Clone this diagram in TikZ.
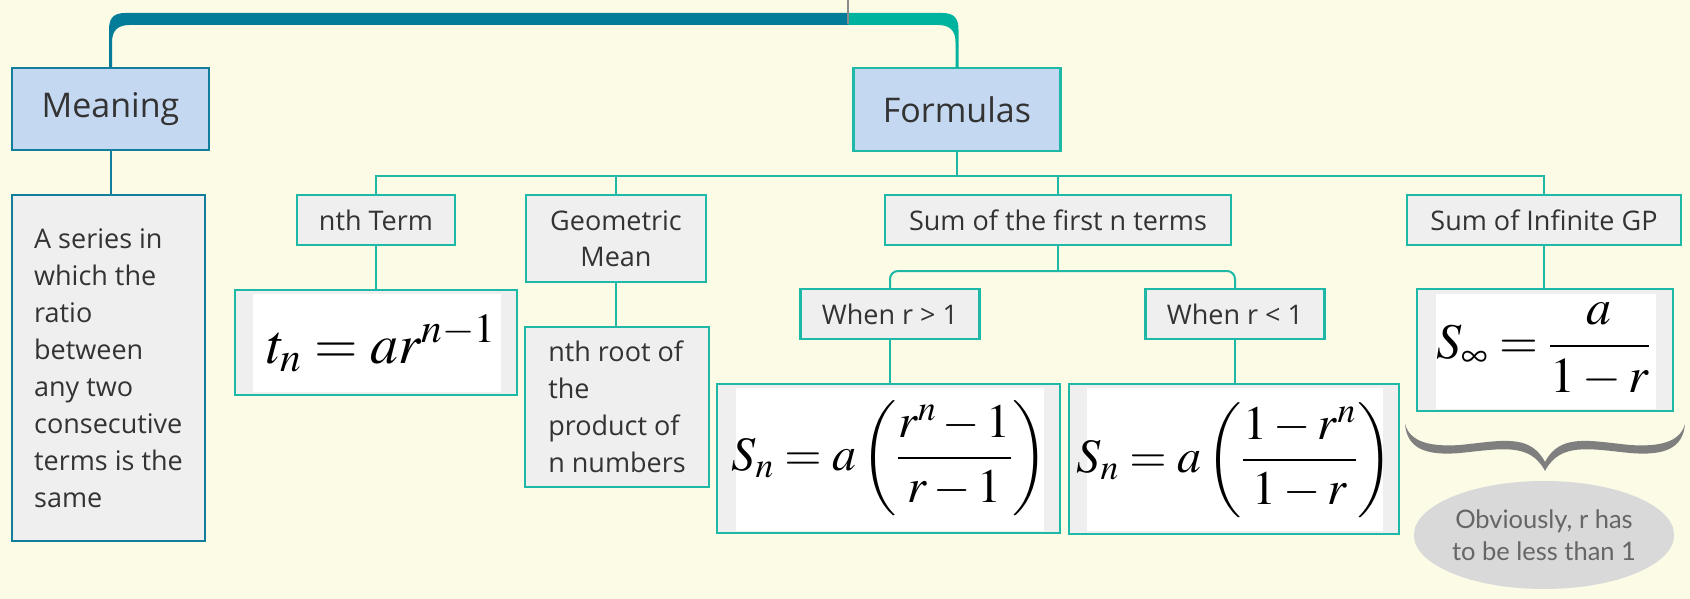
\documentclass[tikz,border=0pt]{standalone}
\usepackage{mathptmx}
\usepackage[no-math]{fontspec}
\setmainfont{Open Sans}
\newfontfamily\notefont{Lato}
\usetikzlibrary{calc,shapes.geometric}
\definecolor{bg}{HTML}{FCFBE6}
\definecolor{tdark}{HTML}{137E9B}
\definecolor{bardark}{HTML}{037C99}
\definecolor{tlight}{HTML}{1DB8A6}
\definecolor{barlight}{HTML}{00B39F}
\definecolor{bluefill}{HTML}{C5D8F1}
\definecolor{grayfill}{HTML}{EFEFEF}
\definecolor{txt}{HTML}{333333}
\definecolor{bracegray}{HTML}{7F7F7F}
\definecolor{ellfill}{HTML}{D9D9D9}
\definecolor{elltext}{HTML}{666666}
\definecolor{rootgray}{HTML}{8A8A8A}
\begin{document}
\begin{tikzpicture}[x=1pt,y=-1pt,
  every node/.style={inner sep=0pt, outer sep=0pt, text=txt},
  topbox/.style={draw=#1, line width=2.2pt, fill=bluefill, font=\fontsize{34}{40}\selectfont},
  lblbox/.style={draw=tlight, line width=2.2pt, fill=grayfill, font=\fontsize{27}{36}\selectfont, align=center},
  textbox/.style={draw=#1, line width=2.2pt, fill=grayfill, font=\fontsize{27}{37}\selectfont, align=left},
  fbox/.style={draw=tlight, line width=2.2pt, fill=grayfill},
  lconn/.style={draw=tlight, line width=2pt},
  dconn/.style={draw=tdark, line width=2pt},
  mathtxt/.style={text=black, font=\fontsize{#1}{#1}\selectfont}
]
\fill[bg] (0,0) rectangle (1690,599);
\useasboundingbox (0,0) rectangle (1690,599);
\coordinate (root) at (848,0);

% top level
\node[topbox=tdark, minimum width=197pt, minimum height=82pt] (meaning) at (110.5,109) {Meaning};
\node[topbox=tlight, minimum width=207pt, minimum height=83pt] (formulas) at (957,109.5) {Formulas};

% top bar
\fill[bardark] ($(meaning.north)+(-1.5,0)$) -- ($(meaning.north)+(-1.5,-38)$)
  .. controls ($(meaning.north)+(-1.5,-50)$) and ($(meaning.north)+(3,-55)$) .. ($(meaning.north)+(15,-55)$)
  -- ($(root)+(0,13)$) -- ($(root)+(0,25)$) -- ($(meaning.north)+(19,-43)$)
  .. controls ($(meaning.north)+(8,-43)$) and ($(meaning.north)+(1.5,-38)$) .. ($(meaning.north)+(1.5,-26)$)
  -- ($(meaning.north)+(1.5,0)$) -- cycle;
\fill[barlight] ($(root)+(0,13)$) -- ($(formulas.north)+(-15,-55)$)
  .. controls ($(formulas.north)+(-3,-55)$) and ($(formulas.north)+(1.5,-50)$) .. ($(formulas.north)+(1.5,-38)$)
  -- ($(formulas.north)+(1.5,0)$) -- ($(formulas.north)+(-1.5,0)$) -- ($(formulas.north)+(-1.5,-26)$)
  .. controls ($(formulas.north)+(-1.5,-38)$) and ($(formulas.north)+(-8,-43)$) .. ($(formulas.north)+(-19,-43)$)
  -- ($(root)+(0,25)$) -- cycle;
\draw[rootgray, line width=1.5pt] (root) -- ($(root)+(0,24)$);

% meaning branch
\node[textbox=tdark, minimum width=193pt, minimum height=346pt] (desc) at (108.5,368)
  {A series in\\which the\\ratio\\between\\any two\\consecutive\\terms is the\\same};
\draw[dconn] (meaning.south) -- (meaning.south |- desc.north);

% formulas children
\node[lblbox, minimum width=158pt, minimum height=50pt] (nth) at (376,220) {nth Term};
\node[lblbox, minimum width=180pt, minimum height=87pt] (gm) at (616,238.5) {Geometric\\Mean};
\node[lblbox, minimum width=346pt, minimum height=50pt] (sumn) at (1058,220) {Sum of the first n terms};
\node[lblbox, minimum width=274pt, minimum height=50pt] (suminf) at (1544,220) {Sum of Infinite GP};
\coordinate (bus) at (957,176);
\draw[lconn] (formulas.south) -- (bus);
\draw[lconn] (nth.north) |- (bus);
\draw[lconn] (gm.north) |- (bus);
\draw[lconn] (sumn.north) |- (bus);
\draw[lconn] (suminf.north) |- (bus);

% nth term formula
\node[fbox, minimum width=282pt, minimum height=105pt] (f1) at (376,342.5) {};
\fill[white] (253,293.5) rectangle (501,392);
\node[mathtxt=56, anchor=base] (m1) at (381,363) {$t_n = ar^{n-1}$};
\draw[lconn] (nth.south) -- (nth.south |- f1.north);

% geometric mean text
\node[textbox=tlight, minimum width=184pt, minimum height=160pt] (gmt) at (617,407)
  {nth root of\\the\\product of\\n numbers};
\draw[lconn] (gm.south) -- (gm.south |- gmt.north);

% sum of first n
\node[lblbox, minimum width=179pt, minimum height=50pt] (gt) at (890,314) {When r > 1};
\node[lblbox, minimum width=179pt, minimum height=50pt] (lt) at (1235,314) {When r < 1};
\coordinate (bus2) at (1058,271);
\draw[lconn] (sumn.south) -- (bus2);
\draw[lconn, rounded corners=8pt] (gt.north) |- (bus2);
\draw[lconn, rounded corners=8pt] (lt.north) |- (bus2);

\node[fbox, minimum width=343pt, minimum height=149pt] (f2) at (888.5,458.5) {};
\fill[white] (736,388) rectangle (1044,530.5);
\node[mathtxt=48] (m2) at (889.5,458) {$\displaystyle S_n = a\left(\frac{r^n-1}{r-1}\right)$};
\draw[lconn] (gt.south) -- (gt.south |- f2.north);

\node[fbox, minimum width=330pt, minimum height=150pt] (f3) at (1234,459) {};
\fill[white] (1087,388) rectangle (1383,531);
\node[mathtxt=48] (m3) at (1234.5,460) {$\displaystyle S_n = a\left(\frac{1-r^n}{1-r}\right)$};
\draw[lconn] (lt.south) -- (lt.south |- f3.north);

% sum of infinite GP
\node[fbox, minimum width=256pt, minimum height=122pt] (f4) at (1545,350) {};
\fill[white] (1436,294) rectangle (1656,408.5);
\node[mathtxt=50] (m4) at (1543,350) {$\displaystyle S_\infty = \frac{a}{1-r}$};
\draw[lconn] (suminf.south) -- (suminf.south |- f4.north);

% brace
\fill[bracegray] (1405,424) .. controls (1407,448) and (1425,456) .. (1460,453)
  .. controls (1500,449) and (1530,442) .. (1545,471)
  .. controls (1560,442) and (1590,449) .. (1630,453)
  .. controls (1665,456) and (1683,448) .. (1685,424)
  .. controls (1680,442) and (1660,447) .. (1630,445)
  .. controls (1590,441) and (1560,433) .. (1545,462)
  .. controls (1530,433) and (1500,441) .. (1460,445)
  .. controls (1430,447) and (1410,442) .. (1405,424) -- cycle;

% note
\node[ellipse, fill=ellfill, minimum width=236pt, minimum height=108pt, align=center,
      text=elltext, font=\notefont\fontsize{25.5}{32}\selectfont] (note) at (1544,535)
  {Obviously, r has\\to be less than 1};
\end{tikzpicture}
\end{document}
